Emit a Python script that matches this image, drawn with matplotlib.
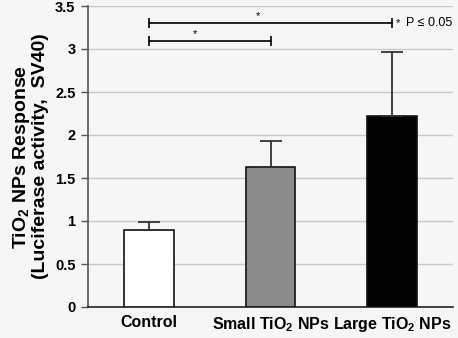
import matplotlib
matplotlib.use("Agg")
import matplotlib.pyplot as plt

categories = ["Control", "Small TiO$_\\mathbf{2}$ NPs", "Large TiO$_\\mathbf{2}$ NPs"]
values = [0.90, 1.63, 2.22]
errors = [0.085, 0.305, 0.74]
colors = ["#ffffff", "#8c8c8c", "#000000"]
yticks = [0, 0.5, 1, 1.5, 2, 2.5, 3, 3.5]
ytick_labels = ["0", "0.5", "1", "1.5", "2", "2.5", "3", "3.5"]

plt.rcParams['font.family'] = ['Liberation Sans', 'DejaVu Sans']
plt.rcParams['mathtext.fontset'] = 'custom'
plt.rcParams['mathtext.rm'] = 'Liberation Sans:bold'
plt.rcParams['mathtext.bf'] = 'Liberation Sans:bold'
plt.rcParams['mathtext.it'] = 'Liberation Sans:bold'

bg = "#f6f6f6"
fig = plt.figure(figsize=(4.58, 3.38), dpi=100, facecolor=bg)
ax = fig.add_axes([88/458, 31/338, 365/458, 301/338])
ax.set_facecolor(bg)

x = list(range(len(categories)))
ax.bar(x, values, width=0.41, color=colors, edgecolor="#111111", linewidth=1.2, zorder=3)
ax.errorbar(x, values, yerr=[[0]*3, errors], fmt="none", ecolor="#333333",
            elinewidth=1.3, capsize=8, capthick=1.3, zorder=4)

ax.set_xlim(-0.5, 2.5)
ax.set_ylim(0, 3.5)
ax.set_yticks(yticks)
ax.set_yticklabels(ytick_labels, fontsize=10.5, fontweight='bold')
ax.set_xticks(x)
ax.set_xticklabels(categories, fontsize=11.5, fontweight='bold')
ax.tick_params(axis='x', length=0, pad=6)
ax.tick_params(axis='y', length=5, width=1, color="#555555", pad=4)
ax.grid(axis='y', color="#c8c8c8", linewidth=1, zorder=0)
for s in ["top", "right"]:
    ax.spines[s].set_visible(False)
ax.spines["left"].set_color("#555555")
ax.spines["bottom"].set_color("#222222")
ax.spines["left"].set_linewidth(1.2)
ax.spines["bottom"].set_linewidth(1.2)

ax.set_ylabel("TiO$_\\mathbf{2}$ NPs Response\n(Luciferase activity,  SV40)",
              fontsize=14, fontweight='bold', labelpad=4, linespacing=1.0)

# significance brackets
def bracket(x0, x1, y, starx):
    ax.plot([x0, x1], [y, y], color="#111111", lw=1.3, zorder=5, clip_on=False)
    for xx in (x0, x1):
        ax.plot([xx, xx], [y - 0.045, y + 0.045], color="#111111", lw=1.3, zorder=5, clip_on=False)
    ax.text(starx, y + 0.02, "*", ha="center", va="bottom", fontsize=8)

bracket(0, 2, 3.30, 0.9)
bracket(0, 1, 3.09, 0.38)
ax.text(2.03, 3.30, "*", ha="left", va="center", fontsize=8)
ax.text(2.11, 3.30, "P ≤ 0.05", ha="left", va="center", fontsize=9)

fig.savefig("out.png", dpi=100, facecolor=bg)
